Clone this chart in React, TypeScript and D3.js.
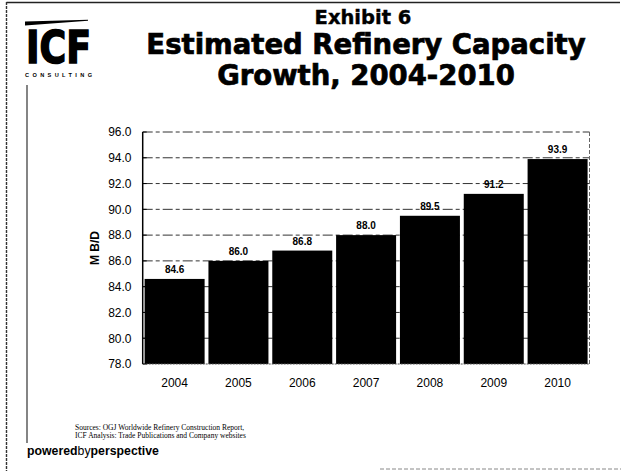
import React from "react";
import * as d3 from "d3";

const years = ["2004", "2005", "2006", "2007", "2008", "2009", "2010"];
const capacity = [84.6, 86.0, 86.8, 88.0, 89.5, 91.2, 93.9];
const yTicks = [78, 80, 82, 84, 86, 88, 90, 92, 94, 96];
const titleLines = ["Estimated Refinery Capacity", "Growth, 2004-2010"];
const sourceLines = [
  "Sources: OGJ Worldwide Refinery Construction Report,",
  "ICF Analysis: Trade Publications and Company websites",
];

const W = 621;
const H = 471;
const plot = { left: 142.7, right: 589.5, top: 132, bottom: 364 };

export default function App() {
  const x = d3
    .scaleBand<string>()
    .domain(years)
    .range([plot.left, plot.right])
    .paddingInner(0.06)
    .paddingOuter(0.03);
  const y = d3.scaleLinear().domain([78, 96]).range([plot.bottom, plot.top]);
  const sans = "'Liberation Sans', Arial, sans-serif";
  const heavy = "'DejaVu Sans', sans-serif";

  return (
    <svg
      width={W}
      height={H}
      viewBox={`0 0 ${W} ${H}`}
      style={{ position: "absolute", left: 0, top: 0, background: "#fff" }}
    >
      <rect x={0} y={0} width={W} height={H} fill="#fff" />
      {/* frame */}
      <line x1={6.5} y1={2.5} x2={620} y2={2.5} stroke="#222" strokeWidth={1.6} />
      <line x1={6.5} y1={2} x2={6.5} y2={471} stroke="#333" strokeWidth={1.4} strokeDasharray="3 1" />
      <line x1={27} y1={85} x2={27} y2={443} stroke="#333" strokeWidth={1.2} />
      <line x1={380} y1={469} x2={621} y2={469} stroke="#888" strokeWidth={1} strokeDasharray="4 2" />

      {/* logo */}
      <polygon points="25,21.5 88,19.8 88,20.8 25,25.5" fill="#000" />
      <text
        x={26}
        y={62.5}
        fontFamily={heavy}
        fontWeight="bold"
        fontSize={44}
        textLength={65}
        lengthAdjust="spacingAndGlyphs"
        fill="#000"
        stroke="#000"
        strokeWidth={1.6}
      >
        ICF
      </text>
      <text
        x={25}
        y={76.5}
        fontFamily={sans}
        fontWeight="bold"
        fontSize={5.6}
        textLength={67}
        lengthAdjust="spacing"
        fill="#000"
      >
        CONSULTING
      </text>

      {/* titles */}
      <text x={363} y={24} textAnchor="middle" fontFamily={heavy} fontWeight="bold" fontSize={19.5} fill="#000" stroke="#000" strokeWidth={0.4}>
        Exhibit 6
      </text>
      {titleLines.map((t, i) => (
        <text
          key={t}
          x={366}
          y={54 + i * 31}
          textAnchor="middle"
          fontFamily={heavy}
          fontWeight="bold"
          fontSize={27.5}
          fill="#000"
          stroke="#000"
          strokeWidth={0.7}
        >
          {t}
        </text>
      ))}

      {/* gridlines */}
      {yTicks.slice(1).map((t) => (
        <line
          key={t}
          x1={plot.left}
          x2={plot.right}
          y1={y(t)}
          y2={y(t)}
          stroke="#333"
          strokeWidth={1}
          strokeDasharray="10 3 4 3"
        />
      ))}
      <line x1={plot.right} x2={plot.right} y1={plot.top} y2={plot.bottom} stroke="#666" strokeWidth={1} strokeDasharray="4 2" />

      {/* bars */}
      {years.map((yr, i) => (
        <rect
          key={yr}
          x={x(yr)}
          y={y(capacity[i])}
          width={x.bandwidth()}
          height={plot.bottom - y(capacity[i])}
          fill="#000"
        />
      ))}
      {years.map((yr, i) => (
        <text
          key={"l" + yr}
          x={(x(yr) as number) + x.bandwidth() / 2}
          y={y(capacity[i]) - 6}
          textAnchor="middle"
          fontFamily={sans}
          fontWeight="bold"
          fontSize={10}
          fill="#000"
        >
          {capacity[i].toFixed(1)}
        </text>
      ))}

      {/* axes */}
      <line x1={plot.left} x2={plot.left} y1={plot.top} y2={plot.bottom} stroke="#000" strokeWidth={1.5} />
      <line x1={plot.left} x2={plot.right} y1={plot.bottom} y2={plot.bottom} stroke="#555" strokeWidth={1} strokeDasharray="2 1" />
      {yTicks.map((t) => (
        <g key={"t" + t}>
          <line x1={plot.left} x2={plot.left + 4} y1={y(t)} y2={y(t)} stroke="#000" />
          <text
            x={131.5}
            y={y(t) + 4.3}
            textAnchor="end"
            fontFamily={sans}
            fontSize={12}
            fill="#000"
          >
            {t.toFixed(1)}
          </text>
        </g>
      ))}
      {years.map((yr) => (
        <text
          key={"x" + yr}
          x={(x(yr) as number) + x.bandwidth() / 2}
          y={387}
          textAnchor="middle"
          fontFamily={sans}
          fontSize={12}
          fill="#000"
        >
          {yr}
        </text>
      ))}
      <text
        transform={`translate(99,${(plot.top + plot.bottom) / 2}) rotate(-90)`}
        textAnchor="middle"
        fontFamily={sans}
        fontWeight="bold"
        fontSize={12}
        fill="#000"
      >
        M B/D
      </text>

      {/* footer */}
      {sourceLines.map((s, i) => (
        <text
          key={s}
          x={75}
          y={430 + i * 8}
          fontFamily="'Liberation Serif', 'Times New Roman', serif"
          fontSize={7.5}
          fill="#000"
        >
          {s}
        </text>
      ))}
      <text x={27} y={455} fontFamily={sans} fontSize={12.3} fill="#000">
        <tspan fontWeight="bold">powered</tspan>
        <tspan>by</tspan>
        <tspan fontWeight="bold">perspective</tspan>
      </text>
    </svg>
  );
}
